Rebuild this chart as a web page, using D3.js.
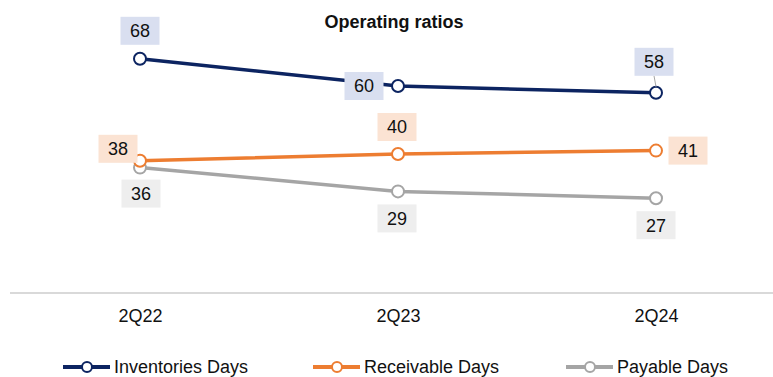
<!DOCTYPE html>
<html>
<head>
<meta charset="utf-8">
<script src="https://cdn.jsdelivr.net/npm/d3@7/dist/d3.min.js"></script>
<style>
  html, body { margin: 0; padding: 0; background: #fff; }
  svg { display: block; font-family: "Liberation Sans", Arial, sans-serif; }
</style>
</head>
<body>
<svg id="chart" width="773" height="377"></svg>
<script>
// Operating ratios, days
const periods = ["2Q22", "2Q23", "2Q24"];
const inventoriesDays = [68, 60, 58];
const receivableDays = [38, 40, 41];
const payableDays = [36, 29, 27];
const seriesNames = ["Inventories Days", "Receivable Days", "Payable Days"];

// presentation settings
const colors = ["#0c2461", "#ed7d31", "#a5a5a5"];
const boxFills = ["#d9dff0", "#fbe3d3", "#eeeeee"];
// label centre offsets from each point, per series; third entry flags a leader line
const labelOffsets = [
  [[0, -28, false], [-34, 0, false], [-2, -31, true]],
  [[-22, -12, false], [-1, -27, false], [32, 0, false]],
  [[1, 26, false], [-1, 27, false], [0, 27, false]]
];

const series = [inventoriesDays, receivableDays, payableDays].map((values, i) => ({
  name: seriesNames[i], values, color: colors[i], fill: boxFills[i], offsets: labelOffsets[i]
}));

const svg = d3.select("#chart");
const x = d3.scaleBand().domain(periods).range([11, 785]);
const y = d3.scaleLinear().domain([0, 80]).range([290, 18]);
const cx = p => x(p) + x.bandwidth() / 2;
const fontSize = 18;

// title
svg.append("text").attr("x", 394).attr("y", 28).attr("text-anchor", "middle")
  .attr("font-size", fontSize).attr("font-weight", "bold").attr("fill", "#111").text("Operating ratios");

// category axis
svg.append("line").attr("x1", 10).attr("x2", 773).attr("y1", 293).attr("y2", 293)
  .attr("stroke", "#d9d9d9").attr("stroke-width", 2);
const xAxis = svg.append("g").attr("transform", "translate(0,293)")
  .call(d3.axisBottom(d3.scalePoint().domain(periods).range([cx(periods[0]), cx(periods[2])])).tickSize(0).tickPadding(16));
xAxis.select(".domain").remove();
xAxis.selectAll("text").attr("font-size", fontSize).attr("fill", "#111")
  .attr("font-family", "'Liberation Sans', Arial, sans-serif");

const line = d3.line().x((d, i) => cx(periods[i])).y(d => y(d));

// draw payable first so that receivable/inventory sit on top
const drawOrder = [2, 1, 0];
drawOrder.forEach(si => {
  const s = series[si];
  svg.append("path").datum(s.values).attr("d", line)
    .attr("fill", "none").attr("stroke", s.color).attr("stroke-width", 3.5);
});
drawOrder.forEach(si => {
  const s = series[si];
  svg.append("g").selectAll("circle").data(s.values).join("circle")
    .attr("cx", (d, i) => cx(periods[i])).attr("cy", d => y(d)).attr("r", 6)
    .attr("fill", "#fff").attr("stroke", s.color).attr("stroke-width", 2);
});

// value labels
const bw = 39, bh = 28;
series.forEach(s => {
  s.values.forEach((v, i) => {
    const px = cx(periods[i]), py = y(v);
    const [ox, oy, leader] = s.offsets[i];
    const lx = px + ox, ly = py + oy;
    const g = svg.append("g");
    if (leader) {
      g.append("line").attr("x1", lx).attr("y1", ly + bh / 2).attr("x2", px).attr("y2", py - 6)
        .attr("stroke", "#a6a6a6").attr("stroke-width", 1);
    }
    g.append("rect").attr("x", lx - bw / 2).attr("y", ly - bh / 2).attr("width", bw).attr("height", bh)
      .attr("fill", s.fill);
    g.append("text").attr("x", lx).attr("y", ly).attr("dy", "0.36em").attr("text-anchor", "middle")
      .attr("font-size", fontSize).attr("fill", "#111").text(v);
  });
});

// legend
const legendX = [63, 313, 566];
series.forEach((s, i) => {
  const g = svg.append("g").attr("transform", `translate(${legendX[i]},367)`);
  g.append("line").attr("x1", 0).attr("x2", 47).attr("stroke", s.color).attr("stroke-width", 4);
  g.append("circle").attr("cx", 24).attr("r", 5).attr("fill", "#fff").attr("stroke", s.color).attr("stroke-width", 2);
  g.append("text").attr("x", 51).attr("dy", "0.36em").attr("font-size", fontSize).attr("fill", "#111").text(s.name);
});
</script>
</body>
</html>
